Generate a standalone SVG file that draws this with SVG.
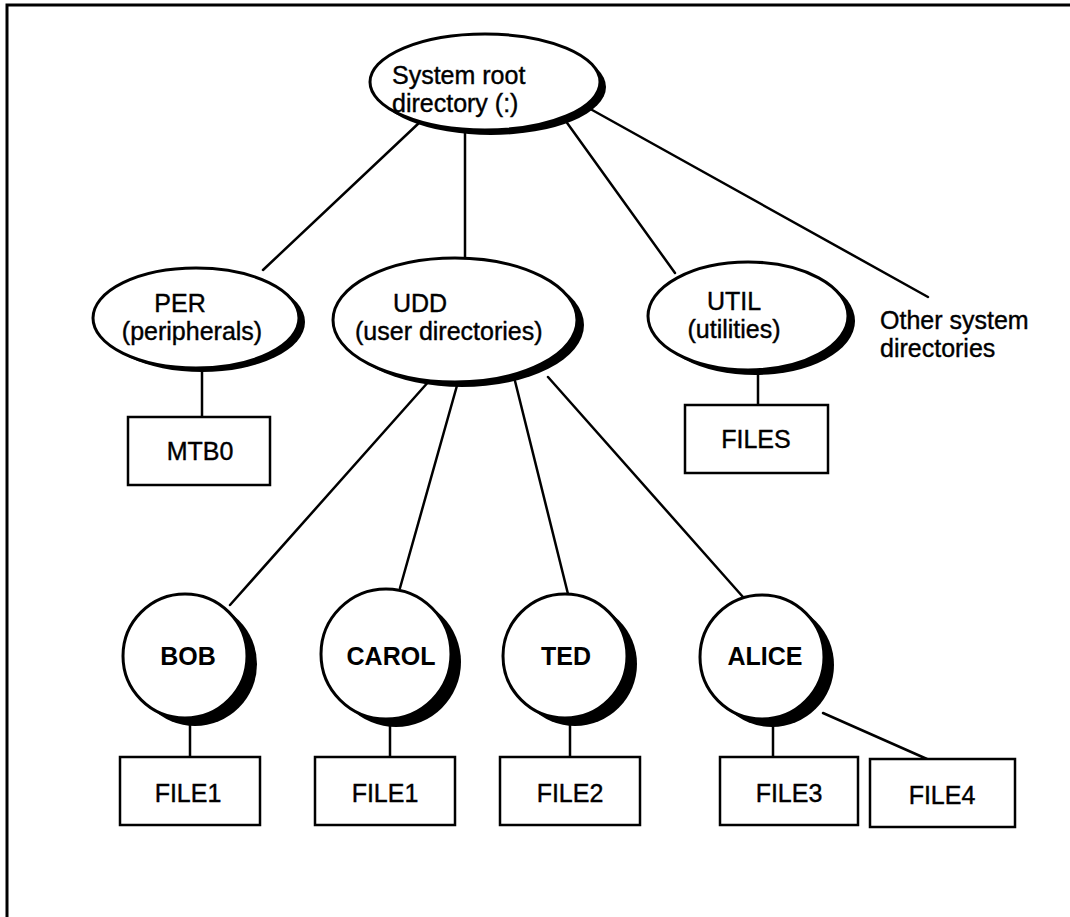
<svg xmlns="http://www.w3.org/2000/svg" width="1070" height="917" viewBox="0 0 1070 917">
<style>
.bg{fill:#fff}
.frame{fill:none;stroke:#000;stroke-width:3}
.edge{fill:none;stroke:#000;stroke-width:2.5;stroke-linecap:round}
.shadow{fill:#000}
.shape{fill:#fff;stroke:#000;stroke-width:3}
.box{fill:#fff;stroke:#000;stroke-width:2.5}
.lbl{font-family:"Liberation Sans",Arial,sans-serif;font-size:25px;fill:#000;stroke:#000;stroke-width:0.4}
.bold{font-weight:bold;stroke-width:0}
.c{text-anchor:middle}
</style>
<rect class="bg" x="0" y="0" width="1070" height="917"/>
<path class="frame" d="M7,917 L7,5 L1070,5"/>
<g id="connectors">
<line class="edge" x1="420" y1="122" x2="263" y2="270"/>
<line class="edge" x1="465" y1="130" x2="465" y2="258"/>
<line class="edge" x1="565" y1="120" x2="675" y2="273"/>
<line class="edge" x1="585" y1="106" x2="928" y2="297"/>
<line class="edge" x1="202" y1="367" x2="202" y2="417"/>
<line class="edge" x1="758" y1="370" x2="758" y2="405"/>
<line class="edge" x1="430" y1="380" x2="230" y2="605"/>
<line class="edge" x1="458" y1="382" x2="400" y2="588"/>
<line class="edge" x1="515" y1="381" x2="568" y2="594"/>
<line class="edge" x1="548" y1="377" x2="743" y2="597"/>
<line class="edge" x1="190" y1="720" x2="190" y2="757"/>
<line class="edge" x1="390" y1="720" x2="390" y2="757"/>
<line class="edge" x1="570" y1="720" x2="570" y2="757"/>
<line class="edge" x1="773" y1="720" x2="773" y2="757"/>
<line class="edge" x1="823" y1="713" x2="927" y2="759"/>
</g>
<g id="root">
<ellipse class="shadow" cx="491" cy="87" rx="115" ry="48"/>
<ellipse class="shape" cx="485" cy="82" rx="115" ry="48"/>
<text class="lbl" x="392" y="84">System root</text>
<text class="lbl" x="392" y="112">directory (:)</text>
</g>
<g id="per">
<ellipse class="shadow" cx="202" cy="322" rx="103" ry="50"/>
<ellipse class="shape" cx="196" cy="318" rx="103" ry="50"/>
<text class="lbl c" x="180" y="312">PER</text>
<text class="lbl c" x="192" y="340">(peripherals)</text>
</g>
<g id="udd">
<ellipse class="shadow" cx="462" cy="325" rx="122" ry="62"/>
<ellipse class="shape" cx="455" cy="320" rx="122" ry="62"/>
<text class="lbl" x="393" y="312">UDD</text>
<text class="lbl" x="355" y="340">(user directories)</text>
</g>
<g id="util">
<ellipse class="shadow" cx="755" cy="321" rx="100" ry="54"/>
<ellipse class="shape" cx="748" cy="316" rx="100" ry="54"/>
<text class="lbl c" x="734" y="310">UTIL</text>
<text class="lbl c" x="734" y="338">(utilities)</text>
</g>
<g id="other">
<text class="lbl" x="880" y="329">Other system</text>
<text class="lbl" x="880" y="357">directories</text>
</g>
<g id="mtb0">
<rect class="box" x="128" y="417" width="142" height="68"/>
<text class="lbl c" x="200" y="460">MTB0</text>
</g>
<g id="files">
<rect class="box" x="685" y="405" width="143" height="68"/>
<text class="lbl c" x="756" y="448">FILES</text>
</g>
<g id="bob">
<circle class="shadow" cx="195" cy="664" r="62"/>
<circle class="shape" cx="185" cy="656" r="62"/>
<text class="lbl bold c" x="188" y="665">BOB</text>
</g>
<g id="carol">
<circle class="shadow" cx="396" cy="662" r="65"/>
<circle class="shape" cx="386" cy="654" r="65"/>
<text class="lbl bold c" x="391" y="665">CAROL</text>
</g>
<g id="ted">
<circle class="shadow" cx="575" cy="664" r="62"/>
<circle class="shape" cx="565" cy="656" r="62"/>
<text class="lbl bold c" x="566" y="665">TED</text>
</g>
<g id="alice">
<circle class="shadow" cx="772" cy="665" r="62"/>
<circle class="shape" cx="762" cy="657" r="62"/>
<text class="lbl bold c" x="765" y="665">ALICE</text>
</g>
<g id="file1a">
<rect class="box" x="120" y="757" width="140" height="68"/>
<text class="lbl c" x="188" y="802">FILE1</text>
</g>
<g id="file1b">
<rect class="box" x="315" y="757" width="140" height="68"/>
<text class="lbl c" x="385" y="802">FILE1</text>
</g>
<g id="file2">
<rect class="box" x="500" y="757" width="140" height="68"/>
<text class="lbl c" x="570" y="802">FILE2</text>
</g>
<g id="file3">
<rect class="box" x="720" y="757" width="138" height="68"/>
<text class="lbl c" x="789" y="802">FILE3</text>
</g>
<g id="file4">
<rect class="box" x="870" y="759" width="145" height="68"/>
<text class="lbl c" x="942" y="804">FILE4</text>
</g>
</svg>
